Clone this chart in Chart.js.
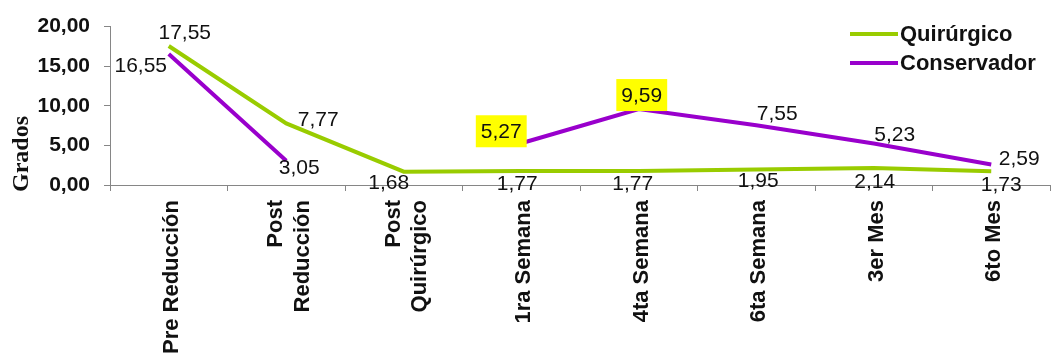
<!DOCTYPE html>
<html>
<head>
<meta charset="utf-8">
<script src="https://cdn.jsdelivr.net/npm/chart.js@4/dist/chart.umd.min.js"></script>
<style>
  html, body { margin: 0; padding: 0; background: #fff; }
  #wrap { width: 1054px; height: 356px; position: relative; }
</style>
</head>
<body>
<div id="wrap"><canvas id="c" width="1054" height="356"></canvas></div>
<script>
const categories = [
  "Pre Reducción",
  ["Post", "Reducción"],
  ["Post", "Quirúrgico"],
  "1ra Semana",
  "4ta Semana",
  "6ta Semana",
  "3er Mes",
  "6to Mes"
];
const quirurgico = [17.55, 7.77, 1.68, 1.77, 1.77, 1.95, 2.14, 1.73];
const conservador = [16.55, 3.05, null, 5.27, 9.59, 7.55, 5.23, 2.59];
const yTicks = [0, 5, 10, 15, 20];
const seriesNames = ["Quirúrgico", "Conservador"];
const seriesColors = ["#99CC00", "#9900CC"];

// label offsets (relative to point), styling only
const labelOffsets = [
  [[16,-14],[32,-4],[-15,11],[-4,12],[-6,12],[2,11],[1,13],[10,13]],
  [[-28,11],[13,6],null,[-20,-12],[3,-14],[21,-12],[21,-9],[28,-6]]
];
const highlighted = [[], [3, 4]];

const fmt = v => v.toFixed(2).replace('.', ',');

const labelsPlugin = {
  id: 'valueLabels',
  beforeDraw(chart) {
    // center multi-line rotated x labels on their category
    const xs = chart.scales.x;
    const items = xs.getLabelItems(chart.chartArea);
    items.forEach(it => {
      if (it._adj) return;
      it._adj = true;
      const n = Array.isArray(it.label) ? it.label.length : 1;
      const lh = it.font.lineHeight;
      it.textOffset += 3 - (n - 1) * lh / 2;
    });
  },
  afterDatasetsDraw(chart) {
    const ctx = chart.ctx;
    ctx.save();
    ctx.font = '21px "Liberation Sans", Arial, sans-serif';
    ctx.textAlign = 'center';
    ctx.textBaseline = 'middle';
    chart.data.datasets.forEach((ds, di) => {
      const meta = chart.getDatasetMeta(di);
      meta.data.forEach((pt, i) => {
        const v = ds.data[i];
        if (v === null || v === undefined) return;
        const off = labelOffsets[di][i] || [0, -12];
        const x = pt.x + off[0], y = pt.y + off[1];
        const txt = fmt(v);
        if (highlighted[di].includes(i)) {
          const w = ctx.measureText(txt).width;
          ctx.fillStyle = '#FFFF00';
          ctx.fillRect(x - w / 2 - 5, y - 16, w + 10, 32);
        }
        ctx.fillStyle = '#111';
        ctx.fillText(txt, x, y + 1);
      });
    });
    ctx.restore();
  },
  afterDraw(chart) {
    const ctx = chart.ctx;
    ctx.save();
    // y axis title
    ctx.translate(22, 154);
    ctx.rotate(-Math.PI / 2);
    ctx.font = 'bold 24px "Liberation Serif", "Times New Roman", serif';
    ctx.fillStyle = '#111';
    ctx.textAlign = 'center';
    ctx.textBaseline = 'middle';
    ctx.fillText('Grados', 0, 0);
    ctx.restore();
    // legend
    ctx.save();
    ctx.font = 'bold 22px "Liberation Sans", Arial, sans-serif';
    ctx.textBaseline = 'middle';
    ctx.textAlign = 'left';
    seriesNames.forEach((n, i) => {
      const y = 34 + i * 29;
      ctx.strokeStyle = seriesColors[i];
      ctx.lineWidth = 4;
      ctx.beginPath();
      ctx.moveTo(850, y);
      ctx.lineTo(898, y);
      ctx.stroke();
      ctx.fillStyle = '#111';
      ctx.fillText(n, 900, y + 1);
    });
    ctx.restore();
  }
};

new Chart(document.getElementById('c'), {
  type: 'line',
  data: {
    labels: categories,
    datasets: [
      { label: seriesNames[0], data: quirurgico, borderColor: seriesColors[0], backgroundColor: seriesColors[0],
        borderWidth: 4, pointRadius: 0, tension: 0, spanGaps: false },
      { label: seriesNames[1], data: conservador, borderColor: seriesColors[1], backgroundColor: seriesColors[1],
        borderWidth: 4, pointRadius: 0, tension: 0, spanGaps: false }
    ]
  },
  options: {
    responsive: false,
    animation: false,
    events: [],
    layout: { padding: { top: 26, right: 4, left: 0, bottom: 0 } },
    plugins: { legend: { display: false }, tooltip: { enabled: false } },
    scales: {
      x: {
        offset: true,
        grid: { display: true, offset: true, drawOnChartArea: false, drawTicks: true, tickLength: 6, color: '#868686' },
        border: { color: '#868686', width: 1 },
        ticks: {
          minRotation: 90, maxRotation: 90, autoSkip: false, padding: 9,
          color: '#111',
          font: { family: '"Liberation Sans", Arial, sans-serif', size: 22, weight: 'bold', lineHeight: 1.2 }
        },
        afterFit(scale) { scale.height = 171; }
      },
      y: {
        min: 0, max: 20,
        afterBuildTicks(scale) { scale.ticks = yTicks.map(v => ({ value: v })); },
        grid: { display: true, drawOnChartArea: false, drawTicks: true, tickLength: 6, color: '#868686' },
        border: { color: '#868686', width: 1 },
        ticks: {
          padding: 14,
          color: '#111',
          font: { family: '"Liberation Sans", Arial, sans-serif', size: 21, weight: 'bold' },
          callback: v => fmt(v)
        },
        afterFit(scale) { scale.width = 110; }
      }
    }
  },
  plugins: [labelsPlugin]
});
</script>
</body>
</html>
